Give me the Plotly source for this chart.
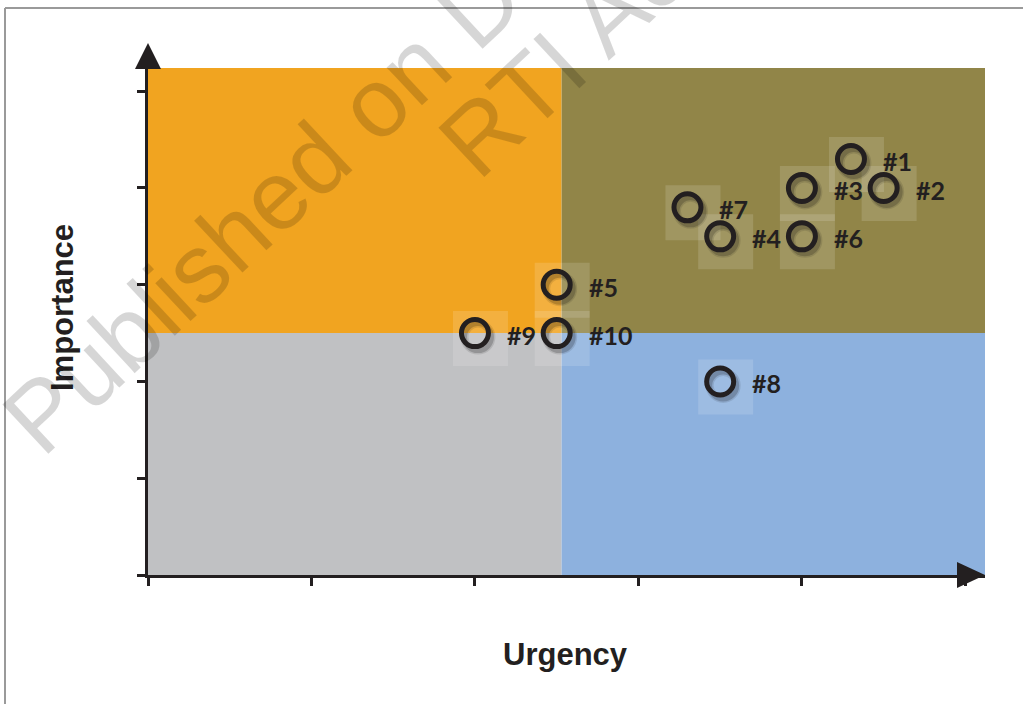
import plotly.graph_objects as go

# ---------------- data ----------------
labels = ["#1", "#2", "#3", "#4", "#5", "#6", "#7", "#8", "#9", "#10"]
urgency = [4.3, 4.5, 4.0, 3.5, 2.5, 4.0, 3.3, 3.5, 2.0, 2.5]
importance = [4.3, 4.0, 4.0, 3.5, 3.0, 3.5, 3.8, 2.0, 2.5, 2.5]
x_ticks = [0, 1, 2, 3, 4, 5]
y_ticks = [0, 1, 2, 3, 4, 5]
x_split = 2.53
y_split = 2.5
x_max = 5.12
y_max = 5.24
x_title = "Urgency"
y_title = "Importance"
watermark_lines = ["Published on D", "RTI Ac"]

# ---------------- style ----------------
W, H = 1023, 704
ML, MR, MT, MB = 148, 38, 68, 129
PW, PH = W - ML - MR, H - MT - MB
INK = "#231f20"
C_TL, C_TR, C_BL, C_BR = "#F1A420", "#918548", "#C0C1C3", "#8DB1DE"


def px_x(px):
    return (px - ML) / PW


def px_y(py):
    return (H - MB - py) / PH


fig = go.Figure()

fig.add_trace(go.Scatter(
    x=urgency, y=importance, mode="markers",
    marker=dict(symbol="circle-open", size=27, color=INK, line=dict(width=5, color=INK)),
    hoverinfo="skip", showlegend=False,
))

shapes = []
# quadrants
quads = [
    (0, x_split, y_split, y_max, C_TL),
    (x_split, x_max, y_split, y_max, C_TR),
    (0, x_split, 0, y_split, C_BL),
    (x_split, x_max, 0, y_split, C_BR),
]
for x0, x1, y0, y1, c in quads:
    shapes.append(dict(type="rect", xref="x", yref="y", x0=x0, x1=x1, y0=y0, y1=y1,
                       fillcolor=c, line=dict(width=0), layer="below"))

# translucent label boxes
for xv, yv in zip(urgency, importance):
    shapes.append(dict(type="rect", xref="x", yref="y", xsizemode="pixel", ysizemode="pixel",
                       xanchor=xv, yanchor=yv, x0=-22, x1=33, y0=-33, y1=22,
                       fillcolor="rgba(255,255,255,0.14)", line=dict(width=0), layer="below"))

# marker shadows
for xv, yv in zip(urgency, importance):
    for w, a in ((8, 0.10), (5, 0.18)):
        shapes.append(dict(type="circle", xref="x", yref="y", xsizemode="pixel", ysizemode="pixel",
                           xanchor=xv, yanchor=yv, x0=-13.5 + 3, x1=13.5 + 3, y0=-13.5 - 4, y1=13.5 - 4,
                           line=dict(width=w, color=f"rgba(0,0,0,{a})"), layer="below"))

# axis arrows
shapes.append(dict(type="path", xref="paper", yref="paper", xsizemode="pixel", ysizemode="pixel",
                   xanchor=1, yanchor=0, path="M -28,13 L 0,0 L -28,-13 Z",
                   fillcolor=INK, line=dict(width=0), layer="above"))
shapes.append(dict(type="path", xref="paper", yref="paper", xsizemode="pixel", ysizemode="pixel",
                   xanchor=0, yanchor=1, path="M -13,-1 L 0,25 L 13,-1 Z",
                   fillcolor=INK, line=dict(width=0), layer="above"))

# outer frame (top and left edges)
shapes.append(dict(type="line", xref="paper", yref="paper", x0=px_x(5), x1=px_x(W + 5),
                   y0=px_y(8), y1=px_y(8), line=dict(color="#9a9a9a", width=2), layer="above"))
shapes.append(dict(type="line", xref="paper", yref="paper", x0=px_x(5), x1=px_x(5),
                   y0=px_y(8), y1=px_y(H + 5), line=dict(color="#9a9a9a", width=2), layer="above"))

annotations = []
for lab, xv, yv in zip(labels, urgency, importance):
    annotations.append(dict(x=xv, y=yv, xref="x", yref="y", text=lab, showarrow=False,
                            xanchor="left", yanchor="middle", xshift=30, yshift=-2,
                            font=dict(family="Lato", size=25, color=INK, weight="bold")))

annotations.append(dict(x=px_x(565), y=px_y(654), xref="paper", yref="paper", text=x_title,
                        showarrow=False, xanchor="center", yanchor="middle",
                        font=dict(family="Liberation Sans, Arial", size=31, color=INK, weight="bold")))
annotations.append(dict(x=px_x(62), y=px_y(308), xref="paper", yref="paper", text=y_title,
                        showarrow=False, xanchor="center", yanchor="middle", textangle=-90,
                        font=dict(family="Liberation Sans, Arial", size=31, color=INK, weight="bold")))

# watermark
wm_pos = [(262, 208), (562, 58)]
for txt, (wx, wy) in zip(watermark_lines, wm_pos):
    annotations.append(dict(x=px_x(wx), y=px_y(wy), xref="paper", yref="paper", text=txt,
                            showarrow=False, xanchor="center", yanchor="middle", textangle=-43,
                            font=dict(family="Liberation Sans, Arial", size=98, color="rgba(0,0,0,0.16)")))

axis_common = dict(showgrid=False, zeroline=False, showline=True, linewidth=3, linecolor=INK,
                   ticks="outside", ticklen=8, tickwidth=3, tickcolor=INK, showticklabels=False,
                   fixedrange=True)
fig.update_layout(
    width=W, height=H, margin=dict(l=ML, r=MR, t=MT, b=MB),
    paper_bgcolor="white", plot_bgcolor="white",
    xaxis=dict(range=[0, x_max], tickvals=x_ticks, **axis_common),
    yaxis=dict(range=[0, y_max], tickvals=y_ticks, **axis_common),
    shapes=shapes, annotations=annotations, showlegend=False,
)

fig.write_html("out.html")
